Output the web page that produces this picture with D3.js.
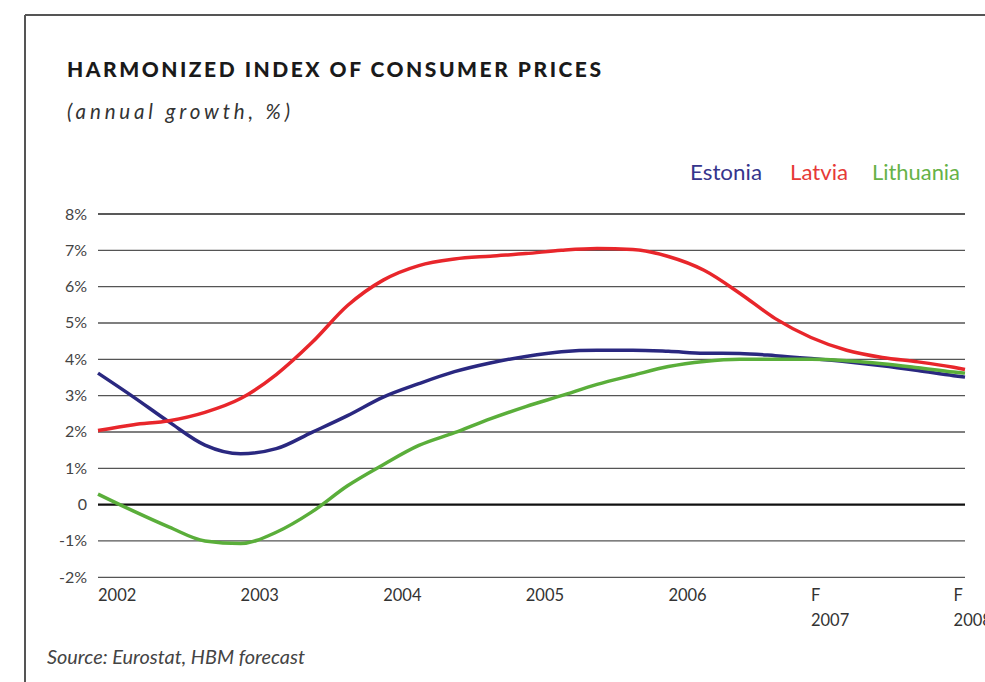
<!DOCTYPE html>
<html>
<head>
<meta charset="utf-8">
<script src="https://cdn.jsdelivr.net/npm/d3@7"></script>
<style>
  html, body { margin: 0; padding: 0; background: #fff; }
  svg { display: block; }
  text { font-family: Lato, "Open Sans", "DejaVu Sans", sans-serif; }
</style>
</head>
<body>
<svg id="chart" width="985" height="682"></svg>
<script>
// ---- Data ----
const periods = [2002, 2002.25, 2002.5, 2002.75, 2003, 2003.25, 2003.5, 2003.75,
  2004, 2004.25, 2004.5, 2004.75, 2005, 2005.25, 2005.5, 2005.75,
  2006, 2006.25, 2006.5, 2006.75, 2007, 2007.25, 2007.5, 2007.75, 2008, 2008.08];
const estonia = [3.62, 2.96, 2.27, 1.64, 1.40, 1.54, 1.99, 2.45, 2.96, 3.33, 3.66, 3.90,
  4.08, 4.21, 4.25, 4.25, 4.22, 4.17, 4.16, 4.10, 4.02, 3.93, 3.82, 3.69, 3.55, 3.51];
const latvia = [2.04, 2.20, 2.31, 2.54, 2.92, 3.58, 4.46, 5.48, 6.18, 6.58, 6.76, 6.84,
  6.91, 7.00, 7.05, 7.02, 6.83, 6.45, 5.82, 5.12, 4.60, 4.25, 4.05, 3.93, 3.78, 3.72];
const lithuania = [0.29, -0.18, -0.62, -1.00, -1.07, -0.76, -0.20, 0.52, 1.10, 1.63, 1.98, 2.36,
  2.70, 3.00, 3.31, 3.56, 3.80, 3.94, 4.00, 4.00, 4.00, 3.96, 3.88, 3.77, 3.65, 3.62];
const seriesNames = ["Estonia", "Latvia", "Lithuania"];
const yTicks = [-2, -1, 0, 1, 2, 3, 4, 5, 6, 7, 8];
const yTickLabels = ["-2%", "-1%", "0", "1%", "2%", "3%", "4%", "5%", "6%", "7%", "8%"];
const xTicks = [2002, 2003, 2004, 2005, 2006, 2007, 2008];
const xTickTop = ["2002", "2003", "2004", "2005", "2006", "F", "F"];
const xTickBottom = ["", "", "", "", "", "2007", "2008"];
const titleText = "HARMONIZED INDEX OF CONSUMER PRICES";
const subtitleText = "(annual growth, %)";
const sourceText = "Source: Eurostat, HBM forecast";

// ---- Styles ----
const lineColors = ["#2a2880", "#e8262b", "#5aae3a"];
const legendColors = ["#36358c", "#e63a37", "#66b247"];

const svg = d3.select("#chart");

// frame
svg.append("line").attr("x1", 25).attr("x2", 985).attr("y1", 15).attr("y2", 15)
  .attr("stroke", "#555").attr("stroke-width", 2);
svg.append("line").attr("x1", 25).attr("x2", 25).attr("y1", 15).attr("y2", 682)
  .attr("stroke", "#555").attr("stroke-width", 2);

// title + subtitle
svg.append("text").attr("x", 67).attr("y", 77)
  .attr("font-size", 21).attr("font-weight", 900).attr("fill", "#1a1a1a")
  .attr("textLength", 534).attr("lengthAdjust", "spacing")
  .text(titleText);
svg.append("text").attr("x", 67).attr("y", 119)
  .attr("font-size", 20.5).attr("font-style", "italic").attr("fill", "#333")
  .attr("textLength", 223).attr("lengthAdjust", "spacing")
  .text(subtitleText);

// scales
const x = d3.scaleLinear().domain([2002, 2008.08]).range([98, 965]);
const y = d3.scaleLinear().domain([-2, 8]).range([577.3, 214]);

// gridlines
const grid = svg.append("g");
grid.selectAll("line").data(yTicks).join("line")
  .attr("x1", 98).attr("x2", 965)
  .attr("y1", d => y(d)).attr("y2", d => y(d))
  .attr("stroke", d => d === 0 ? "#111" : (d === 8 ? "#222" : "#555"))
  .attr("stroke-width", d => d === 0 ? 2.2 : 1.3);

// y labels
svg.append("g").selectAll("text").data(yTicks).join("text")
  .attr("x", 87).attr("y", d => y(d) + 5.5)
  .attr("text-anchor", "end").attr("font-size", 16).attr("fill", "#444")
  .text((d, i) => yTickLabels[i]);

// x labels
const xl = svg.append("g");
xl.selectAll("text.top").data(xTicks).join("text").attr("class", "top")
  .attr("x", d => x(d)).attr("y", 601)
  .attr("font-size", 16.5).attr("fill", "#333")
  .text((d, i) => xTickTop[i]);
xl.selectAll("text.bot").data(xTicks).join("text").attr("class", "bot")
  .attr("x", d => x(d)).attr("y", 626)
  .attr("font-size", 16.5).attr("fill", "#333")
  .text((d, i) => xTickBottom[i]);

// lines
const allSeries = [estonia, latvia, lithuania];
const line = d3.line()
  .x((d, i) => x(periods[i]))
  .y(d => y(d))
  .curve(d3.curveMonotoneX);
const order = [0, 2, 1];
svg.append("g").selectAll("path").data(order).join("path")
  .attr("d", k => line(allSeries[k]))
  .attr("fill", "none")
  .attr("stroke", k => lineColors[k])
  .attr("stroke-width", 3.5)
  .attr("stroke-linejoin", "round");

// legend
const legendX = [690, 790, 872];
const legendW = [72, 58, 88];
svg.append("g").selectAll("text").data(seriesNames).join("text")
  .attr("x", (d, i) => legendX[i]).attr("y", 180)
  .attr("font-size", 21).attr("fill", (d, i) => legendColors[i])
  .attr("textLength", (d, i) => legendW[i]).attr("lengthAdjust", "spacingAndGlyphs")
  .text(d => d);

// source
svg.append("text").attr("x", 47).attr("y", 664)
  .attr("font-size", 19).attr("font-style", "italic").attr("fill", "#444")
  .attr("textLength", 258).attr("lengthAdjust", "spacingAndGlyphs")
  .text(sourceText);
</script>
</body>
</html>
